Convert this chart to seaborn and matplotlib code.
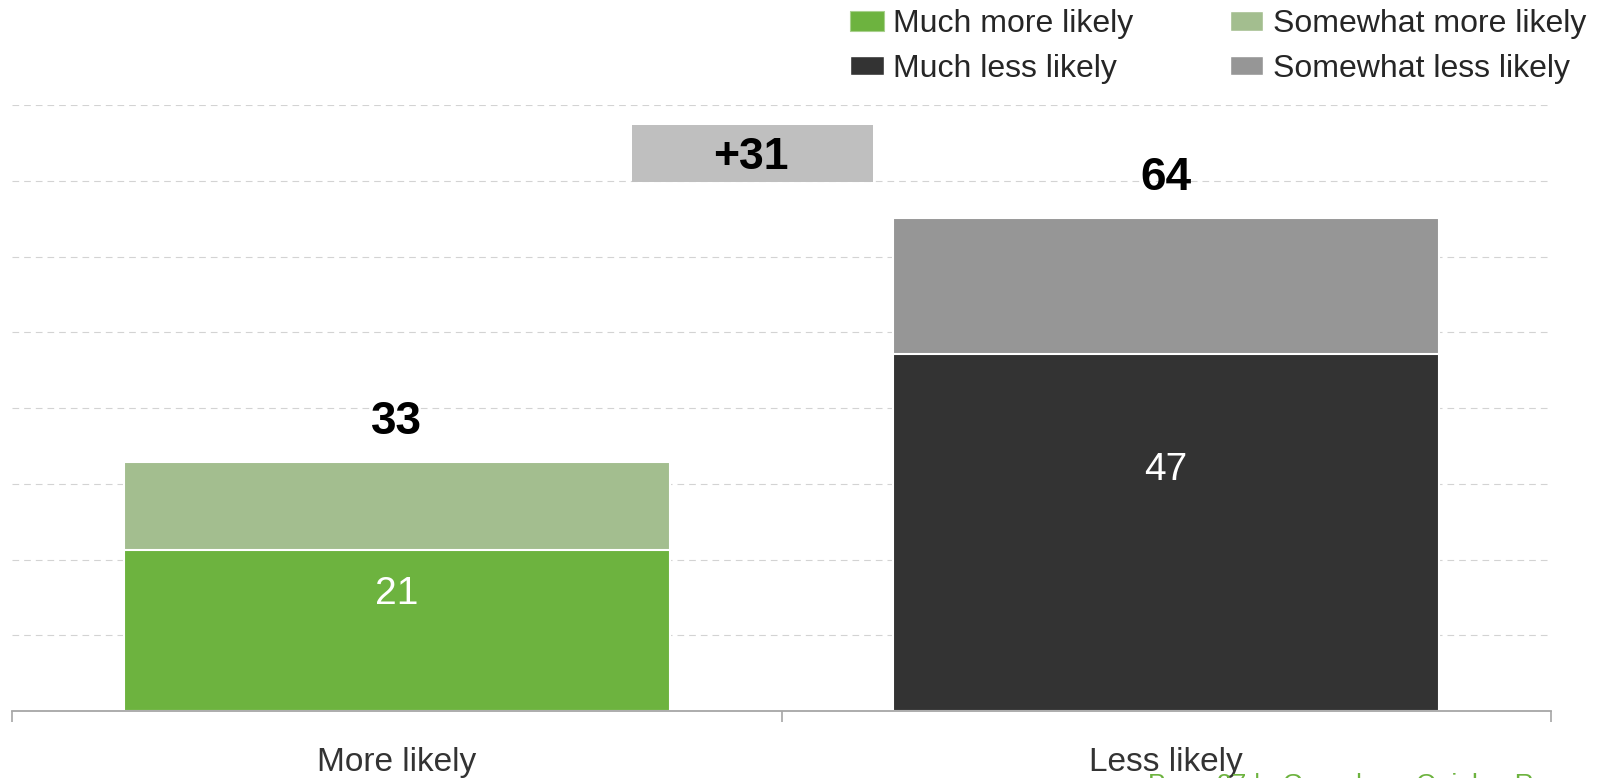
import matplotlib
matplotlib.use("Agg")
import matplotlib.pyplot as plt
from matplotlib.patches import Patch
import pandas as pd
import seaborn as sns

# data
categories = ["More likely", "Less likely"]
strong = [21.2, 47.2]          # much more likely / much less likely
somewhat = [11.7, 17.9]        # somewhat more likely / somewhat less likely
strong_labels = ["21", "47"]
total_labels = ["33", "64"]
net_label = "+31"
legend_labels = ["Much more likely", "Much less likely",
                 "Somewhat more likely", "Somewhat less likely"]

# colours
c_much_more = "#6DB33F"
c_some_more = "#A3BE8F"
c_much_less = "#333333"
c_some_less = "#969696"
c_net = "#BFBFBF"

# layout (data units)
inner_label_y = [15.4, 31.8]
total_offset = 5.3
net_box = dict(x=0.4625, width=0.313, bottom=69.8, top=77.4)
net_text = (0.46, 73.1)

df = pd.DataFrame({
    "category": categories,
    "strong": strong,
    "total": [a + b for a, b in zip(strong, somewhat)],
})

sns.set_theme(style="white")
plt.rcParams["font.family"] = ["Liberation Sans", "DejaVu Sans"]

fig = plt.figure(figsize=(16.21, 7.78), dpi=100)
ax = fig.add_axes([0.00765, 0.0861, 0.949, 0.7786])

# top segment first (full stack height), then the strong segment over it
sns.barplot(data=df, x="category", y="total", hue="category",
            palette={categories[0]: c_some_more, categories[1]: c_some_less},
            dodge=False, width=0.71, saturation=1, edgecolor="white",
            linewidth=1.5, legend=False, ax=ax)
sns.barplot(data=df, x="category", y="strong", hue="category",
            palette={categories[0]: c_much_more, categories[1]: c_much_less},
            dodge=False, width=0.71, saturation=1, edgecolor="white",
            linewidth=1.5, legend=False, ax=ax)

for i, row in df.iterrows():
    ax.text(i, inner_label_y[i], strong_labels[i], ha="center", va="center",
            color="white", fontsize=28)
    ax.text(i, row["total"] + total_offset, total_labels[i], ha="center",
            va="center", color="black", fontsize=33, fontweight="bold")

# net difference box
ax.bar(net_box["x"], net_box["top"] - net_box["bottom"], width=net_box["width"],
       bottom=net_box["bottom"], color=c_net, linewidth=0, zorder=3)
ax.text(net_text[0], net_text[1], net_label, ha="center", va="center",
        fontsize=32, fontweight="bold", color="black", zorder=4)

ax.set_xlim(-0.5, 1.5)
ax.set_ylim(0, 80)
ax.set_yticks(range(10, 81, 10))
ax.set_yticklabels([])
ax.tick_params(axis="y", length=0)
ax.yaxis.grid(True, color="#D3D3D3", linestyle=(0, (6, 4.5)), linewidth=0.8)
ax.set_axisbelow(True)

for s in ["top", "right", "left"]:
    ax.spines[s].set_visible(False)
ax.spines["bottom"].set_color("#A6A6A6")
ax.spines["bottom"].set_linewidth(1.3)

ax.set_xticks([-0.5, 0.5, 1.5], minor=True)
ax.tick_params(axis="x", which="minor", length=8, width=1.2, color="#A6A6A6",
               direction="out", bottom=True)
ax.tick_params(axis="x", which="major", length=0, pad=26, labelsize=24,
               labelcolor="#333333")
ax.set_xlabel("")
ax.set_ylabel("")

handles = [Patch(facecolor=c_much_more, edgecolor="#A8D08D", linewidth=0.8),
           Patch(facecolor=c_much_less),
           Patch(facecolor=c_some_more),
           Patch(facecolor=c_some_less)]
fig.legend(handles, legend_labels, loc="upper left",
           bbox_to_anchor=(850 / 1621, 0.988), ncol=2, frameon=False,
           fontsize=23, borderpad=0, borderaxespad=0, handlelength=1.06,
           handleheight=0.56, handletextpad=0.3, columnspacing=3.0,
           labelspacing=0.46)

# source line, cut off at the bottom edge as in the original
fig.text(1148 / 1621, 0.006, "Page 27 |   Greenberg Quinlan Rosner",
         ha="left", va="top", fontsize=19, color=c_much_more)

fig.savefig("out.png", dpi=100)
